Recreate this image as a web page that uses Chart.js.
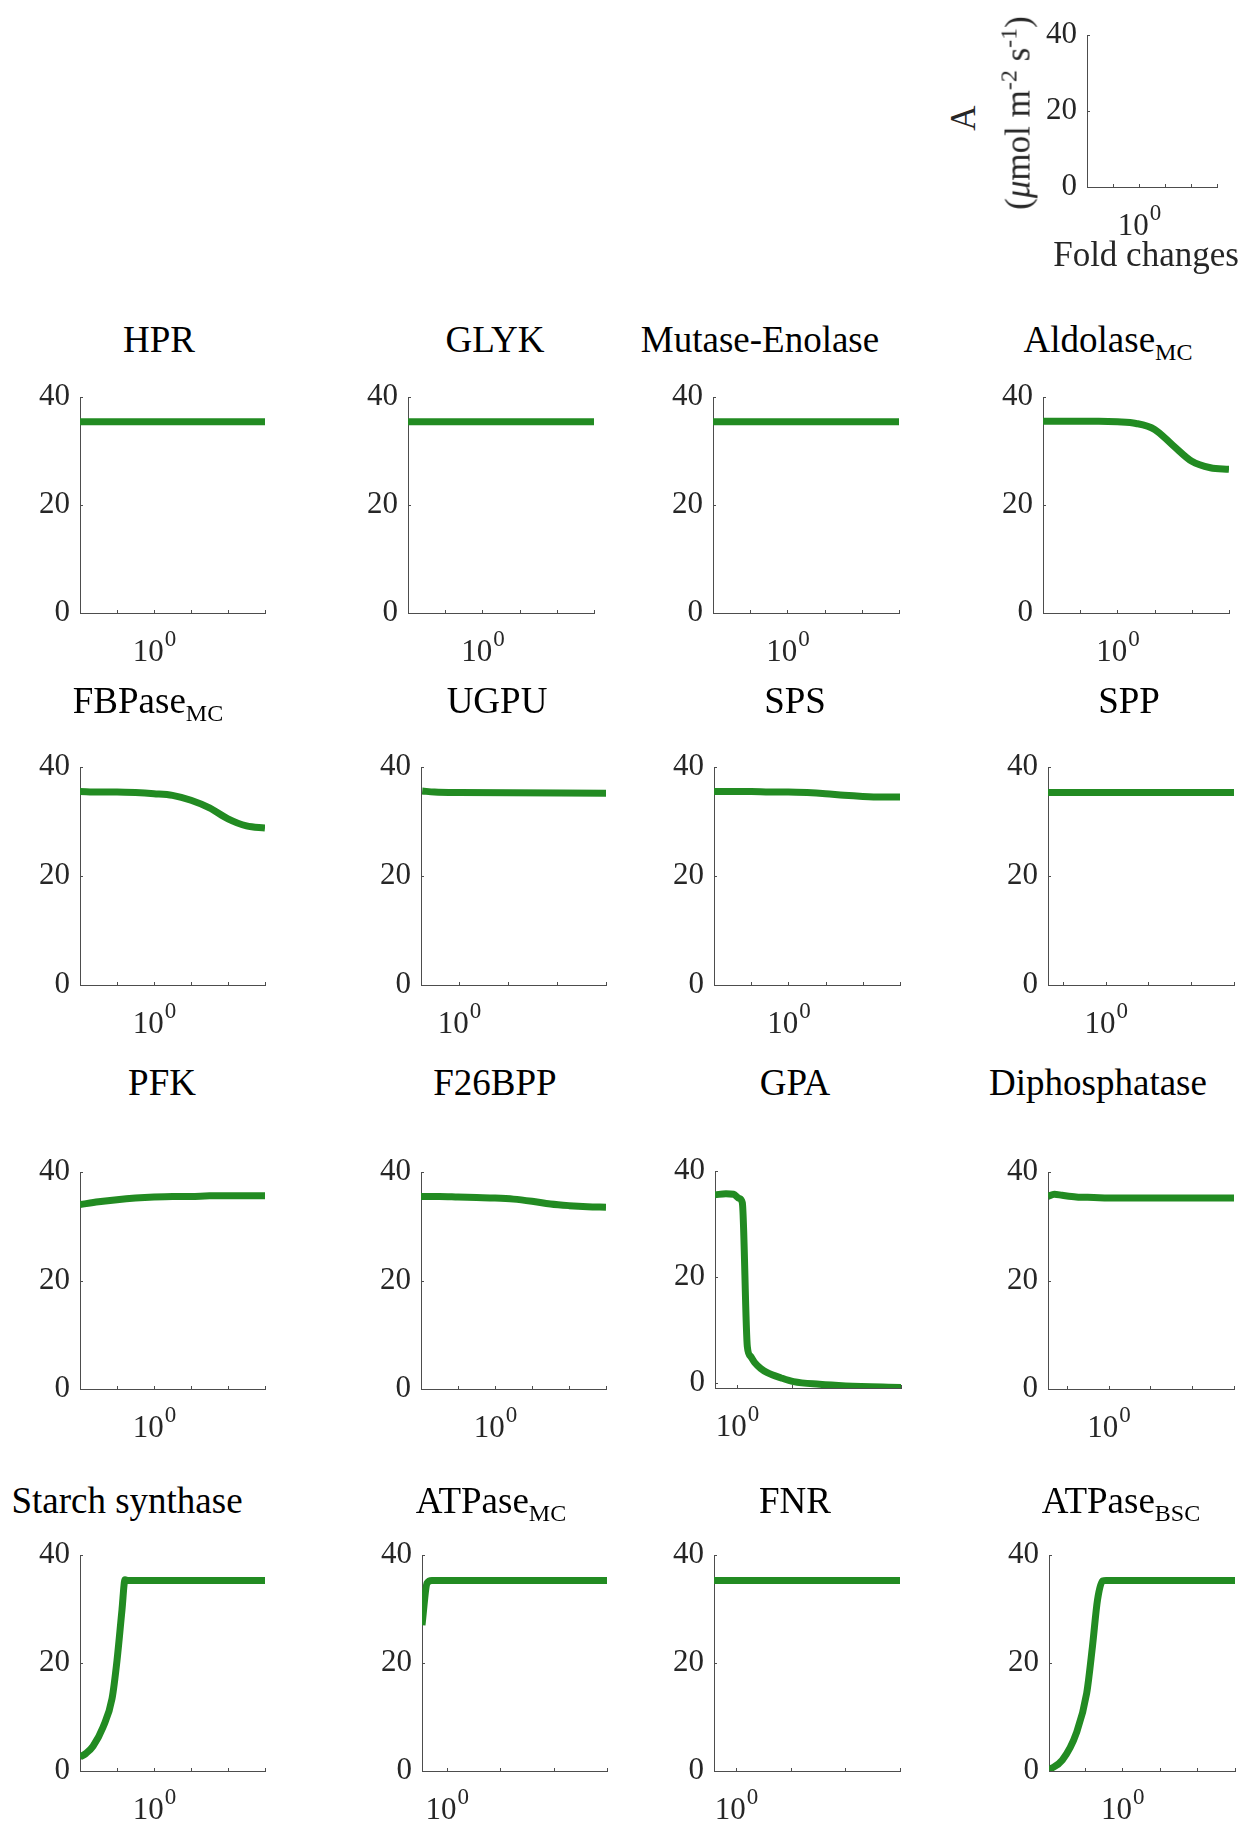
<!DOCTYPE html>
<html>
<head>
<meta charset="utf-8">
<script src="https://cdn.jsdelivr.net/npm/chart.js@4.4.1/dist/chart.umd.min.js"></script>
<style>
  body { margin: 0; background: #fff; }
  #page { position: relative; width: 1242px; height: 1825px; overflow: hidden;
          font-family: 'Liberation Serif', 'Times New Roman', serif; }
  canvas { position: absolute; }
  .title { position: absolute; font-size: 37px; line-height: 37px; color: #000;
           white-space: nowrap; transform: translateX(-50%); }
  .title sub { font-size: 24px; line-height: 0; vertical-align: -8px; }
  .lab { position: absolute; color: #262626; white-space: nowrap; font-size: 35px; line-height: 35px; }
  .lab sup { font-size: 24px; line-height: 0; vertical-align: 13px; }
  .rot { transform: translate(-50%, -50%) rotate(-90deg); }
</style>
</head>
<body>
<div id="page"></div>
<script>
const FONT = "'Liberation Serif', 'Times New Roman', serif";
const AXIS = '#4d4d4d';
const GREEN = '#228B22';

// tick values on the fold-change axis (only 10^0 is labelled)
const ticksFull = [0.631, 1, 1.585, 2.512, 3.981];
const ticksShort = [1, 1.585, 2.512, 3.981];
const yTicks = [0, 20, 40];

// panel names
const enzymes = ['HPR', 'GLYK', 'Mutase-Enolase', 'Aldolase<sub>MC</sub>',
  'FBPase<sub>MC</sub>', 'UGPU', 'SPS', 'SPP',
  'PFK', 'F26BPP', 'GPA', 'Diphosphatase',
  'Starch synthase', 'ATPase<sub>MC</sub>', 'FNR', 'ATPase<sub>BSC</sub>'];

// fold change (x) and A in umol m-2 s-1 (y)
const gridX = [0.398, 0.501, 0.631, 0.794, 1, 1.259, 1.585, 1.995, 2.512, 3.162, 3.981];

const hprX = [0.398, 3.981];           const hprA = [35.4, 35.4];
const glykX = [0.398, 3.981];          const glykA = [35.4, 35.4];
const mutaseX = [0.398, 3.981];        const mutaseA = [35.4, 35.4];
const aldolaseA = [35.5, 35.5, 35.5, 35.5, 35.4, 35.1, 34.0, 31.0, 28.1, 26.9, 26.6];

const fbpaseA = [35.5, 35.4, 35.4, 35.3, 35.1, 34.8, 33.9, 32.5, 30.5, 29.2, 28.8];
const ugpuX = [0.708, 0.794, 1, 3.981]; const ugpuA = [35.6, 35.4, 35.3, 35.2];
const spsA = [35.5, 35.5, 35.5, 35.4, 35.4, 35.3, 35.1, 34.8, 34.6, 34.5, 34.5];
const sppX = [0.537, 3.981];           const sppA = [35.3, 35.3];

const pfkA = [34.0, 34.5, 34.9, 35.2, 35.4, 35.5, 35.5, 35.6, 35.6, 35.6, 35.6];
const f26bppA = [35.5, 35.5, 35.4, 35.3, 35.2, 35.0, 34.6, 34.1, 33.8, 33.6, 33.5];
const gpaX = [0.83, 0.91, 0.97, 1.02, 1.045, 1.09, 1.12, 1.16, 1.22, 1.29, 1.45, 1.61, 2.0, 2.5, 3.981];
const gpaA = [35.5, 35.7, 35.6, 34.8, 34.0, 6.8, 5.0, 3.8, 2.7, 1.9, 0.9, 0.2, -0.3, -0.6, -0.9];
const diphosX = [0.513, 0.55, 0.6, 0.7, 0.85, 1, 3.981];
const diphosA = [35.5, 35.9, 35.7, 35.4, 35.3, 35.2, 35.2];

const starchX = [0.398, 0.43, 0.468, 0.53, 0.593, 0.631, 0.671, 0.697, 0.72, 3.981];
const starchA = [2.6, 3.3, 4.6, 8.1, 13.4, 20.5, 29.8, 35.4, 35.3, 35.3];
const atpMcX = [0.807, 0.843, 0.879, 3.981]; const atpMcA = [27.0, 34.8, 35.3, 35.3];
const fnrX = [0.83, 3.981];            const fnrA = [35.3, 35.3];
const atpBscX = [0.407, 0.479, 0.569, 0.646, 0.693, 0.738, 0.785, 0.82, 3.981];
const atpBscA = [0.2, 2.0, 7.0, 14.4, 23.0, 31.7, 35.2, 35.3, 35.3];

const panels = [
  { x: hprX, y: hprA, min: 0.398, ticks: ticksFull },
  { x: glykX, y: glykA, min: 0.398, ticks: ticksFull },
  { x: mutaseX, y: mutaseA, min: 0.398, ticks: ticksFull },
  { x: gridX, y: aldolaseA, min: 0.398, ticks: ticksFull },
  { x: gridX, y: fbpaseA, min: 0.398, ticks: ticksFull },
  { x: ugpuX, y: ugpuA, min: 0.708, ticks: ticksShort },
  { x: gridX, y: spsA, min: 0.398, ticks: ticksFull },
  { x: sppX, y: sppA, min: 0.537, ticks: ticksFull },
  { x: gridX, y: pfkA, min: 0.398, ticks: ticksFull },
  { x: gridX, y: f26bppA, min: 0.398, ticks: ticksFull },
  { x: gpaX, y: gpaA, min: 0.83, ticks: ticksShort, yMin: -1 },
  { x: diphosX, y: diphosA, min: 0.513, ticks: ticksFull },
  { x: starchX, y: starchA, min: 0.398, ticks: ticksFull },
  { x: atpMcX, y: atpMcA, min: 0.807, ticks: ticksShort },
  { x: fnrX, y: fnrA, min: 0.83, ticks: ticksShort },
  { x: atpBscX, y: atpBscA, min: 0.407, ticks: ticksFull }
];

// axes rectangles on the page [left, top, right, bottom]
const boxes = [
  [80, 397, 265, 613], [408, 397, 594, 613], [713, 397, 899, 613], [1043, 397, 1229, 613],
  [80, 767, 265, 985], [421, 767, 606, 985], [714, 767, 900, 985], [1048, 767, 1234, 985],
  [80, 1172, 265, 1389], [421, 1172, 606, 1389], [715, 1171, 901, 1388], [1048, 1172, 1234, 1389],
  [80, 1555, 265, 1771], [422, 1555, 607, 1771], [714, 1555, 900, 1771], [1049, 1555, 1235, 1771]
];
// title centre x and baseline y
const titlePos = [
  [159, 352], [495, 352], [760, 352], [1108, 352],
  [148, 713], [497, 713], [795, 713], [1129, 713],
  [162, 1095], [495, 1095], [795, 1095], [1098, 1095],
  [127, 1513], [491, 1513], [795, 1513], [1121, 1513]
];

const page = document.getElementById('page');
const PAD_L = 70, PAD_T = 30, PAD_R = 15, PAD_B = 70;

const axisDecor = {
  id: 'axisDecor',
  beforeDatasetsDraw(chart) {
    const { ctx, chartArea: a, scales: { x, y } } = chart;
    ctx.save();
    ctx.strokeStyle = AXIS;
    ctx.lineWidth = 1;
    ctx.beginPath();
    x.ticks.forEach(t => {
      const px = Math.round(x.getPixelForValue(t.value)) + 0.5;
      ctx.moveTo(px, a.bottom); ctx.lineTo(px, a.bottom - 3);
    });
    y.ticks.forEach(t => {
      const py = Math.round(y.getPixelForValue(t.value)) + 0.5;
      ctx.moveTo(a.left, py); ctx.lineTo(a.left + 3, py);
    });
    ctx.stroke();
    ctx.restore();
  },
  afterDraw(chart) {
    const { ctx, chartArea: a, scales: { x } } = chart;
    const px = x.getPixelForValue(1);
    ctx.save();
    ctx.fillStyle = '#262626';
    ctx.textAlign = 'left';
    ctx.textBaseline = 'alphabetic';
    ctx.font = '31px ' + FONT;
    const w1 = ctx.measureText('10').width;
    ctx.font = '23px ' + FONT;
    const w2 = ctx.measureText('0').width;
    const x0 = px - (w1 + w2) / 2;
    ctx.font = '31px ' + FONT;
    ctx.fillText('10', x0, a.bottom + 48);
    ctx.font = '23px ' + FONT;
    ctx.fillText('0', x0 + w1 + 1, a.bottom + 33);
    ctx.restore();
  }
};

function makeAxes(box, xMin, xTicks, points, yMin) {
  const [l, t, r, b] = box;
  const cv = document.createElement('canvas');
  cv.width = (r - l) + PAD_L + PAD_R;
  cv.height = (b - t) + PAD_T + PAD_B;
  cv.style.left = (l - PAD_L) + 'px';
  cv.style.top = (t - PAD_T) + 'px';
  page.appendChild(cv);
  const datasets = points ? [{
    data: points,
    borderColor: GREEN,
    borderWidth: 7,
    pointRadius: 0,
    cubicInterpolationMode: 'monotone',
    fill: false
  }] : [];
  return new Chart(cv, {
    type: 'line',
    data: { datasets: datasets },
    options: {
      responsive: false,
      animation: false,
      events: [],
      layout: { padding: { left: 0, top: PAD_T, right: PAD_R, bottom: 0 } },
      plugins: { legend: { display: false }, tooltip: { enabled: false } },
      scales: {
        x: {
          type: 'logarithmic', min: xMin, max: 3.981,
          afterBuildTicks: s => { s.ticks = xTicks.map(v => ({ value: v })); },
          afterFit: s => { s.height = PAD_B; },
          ticks: { display: false },
          grid: { display: true, drawOnChartArea: false, drawTicks: false },
          border: { display: true, color: AXIS, width: 1 }
        },
        y: {
          type: 'linear', min: yMin, max: 40,
          afterBuildTicks: s => { s.ticks = yTicks.map(v => ({ value: v })); },
          afterFit: s => { s.width = PAD_L; },
          ticks: { font: { family: FONT, size: 31 }, color: '#262626', padding: 10 },
          grid: { display: true, drawOnChartArea: false, drawTicks: false },
          border: { display: true, color: AXIS, width: 1 }
        }
      }
    },
    plugins: [axisDecor]
  });
}

panels.forEach((p, i) => {
  const pts = p.x.map((v, k) => ({ x: v, y: p.y[k] }));
  makeAxes(boxes[i], p.min, p.ticks, pts, p.yMin !== undefined ? p.yMin : 0);
  const d = document.createElement('div');
  d.className = 'title';
  d.innerHTML = enzymes[i];
  d.style.left = titlePos[i][0] + 'px';
  d.style.top = (titlePos[i][1] - 31) + 'px';
  page.appendChild(d);
});

// key axes in the top right corner
makeAxes([1087, 35, 1217, 187], 0.398, ticksFull, null, 0);

const yl1 = document.createElement('div');
yl1.className = 'lab rot';
yl1.textContent = 'A';
yl1.style.left = '963px'; yl1.style.top = '118px';
page.appendChild(yl1);

const yl2 = document.createElement('div');
yl2.className = 'lab rot';
yl2.innerHTML = '(<i>\u03bc</i>mol m<sup>-2</sup> s<sup>-1</sup>)';
yl2.style.left = '1018px'; yl2.style.top = '113px';
page.appendChild(yl2);

const xl = document.createElement('div');
xl.className = 'lab';
xl.style.fontSize = '35px'; xl.style.lineHeight = '35px';
xl.textContent = 'Fold changes';
xl.style.left = '1146px'; xl.style.top = '237px';
xl.style.transform = 'translateX(-50%)';
page.appendChild(xl);
</script>
</body>
</html>
